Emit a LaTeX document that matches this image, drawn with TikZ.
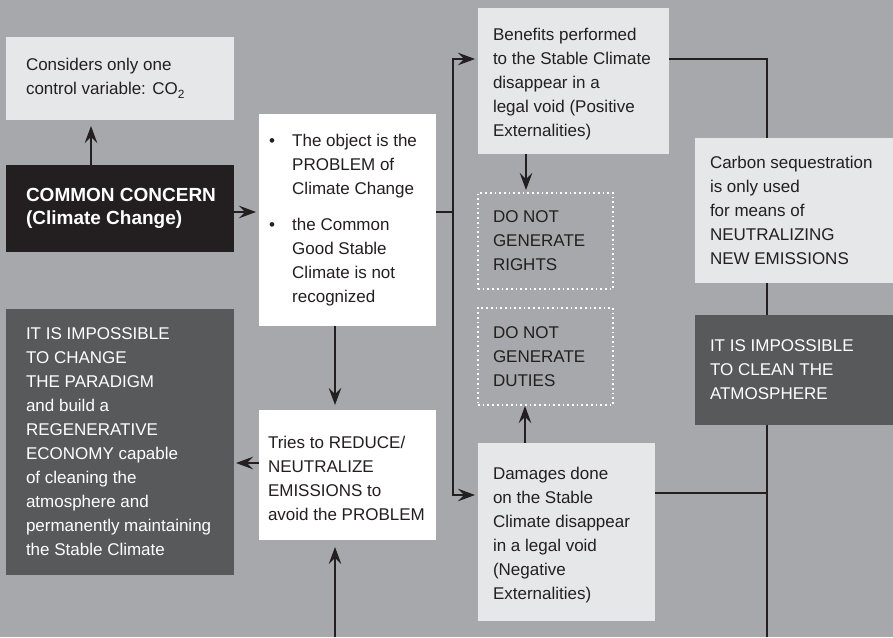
\documentclass[tikz,border=0pt]{standalone}
\usepackage{fontspec}
\setmainfont{Liberation Sans}
\usetikzlibrary{arrows.meta}
\definecolor{bg}{HTML}{A7A8AB}
\definecolor{lightbox}{HTML}{E6E7E8}
\definecolor{darkbox}{HTML}{58595B}
\definecolor{blackbox}{HTML}{231F20}
\definecolor{ink}{HTML}{231F20}
\begin{document}
\begin{tikzpicture}[x=1pt,y=-1pt,
  rect/.style={anchor=north west, inner sep=0pt, outer sep=0pt},
  lightrect/.style={rect, fill=lightbox},
  darkrect/.style={rect, fill=darkbox},
  whiterect/.style={rect, fill=white},
  dotrect/.style={rect, draw=white, line width=1.7pt, dash pattern=on 1.7pt off 3pt},
  txt/.style={anchor=west, inner sep=0pt, outer sep=0pt, align=left, text=ink, font=\fontsize{17}{24}\selectfont},
  wtxt/.style={txt, text=white},
  arr/.style={draw=ink, line width=1.3pt, -{Stealth[length=17pt,width=12.5pt,inset=6pt]}, shorten >=3pt},
  ln/.style={draw=ink, line width=1.3pt}]
\fill[bg] (0,0) rectangle (893,637);
\useasboundingbox (0,0) rectangle (893,637);

% boxes
\node[lightrect, minimum width=228pt, minimum height=83pt] (cons) at (6,37) {};
\node[rect, fill=blackbox, minimum width=228pt, minimum height=87pt] (cc) at (6,165) {};
\node[whiterect, minimum width=177pt, minimum height=212pt] (bul) at (259,114) {};
\node[lightrect, minimum width=191pt, minimum height=146pt] (ben) at (478,8) {};
\node[dotrect, minimum width=135pt, minimum height=96pt] (rights) at (478,193) {};
\node[dotrect, minimum width=135pt, minimum height=97pt] (duties) at (478,308) {};
\node[lightrect, minimum width=200pt, minimum height=145pt] (carbon) at (695,138) {};
\node[darkrect, minimum width=200pt, minimum height=110pt] (clean) at (695,315) {};
\node[darkrect, minimum width=228pt, minimum height=266pt] (imp) at (6,309) {};
\node[whiterect, minimum width=177pt, minimum height=130pt] (tries) at (259,410) {};
\node[lightrect, minimum width=177pt, minimum height=178pt] (dam) at (478,443) {};

% texts
\node[txt] (cons-t) at ([xshift=20pt]cons.west) {Considers only one\\control variable: CO\textsubscript{\raisebox{-2pt}{2}}};
\node[txt, text=white, font=\fontsize{19}{22.5}\selectfont\bfseries] (cc-t) at ([xshift=20pt]cc.west) {COMMON CONCERN\\(Climate Change)};
\node[anchor=west, inner sep=0pt, text=ink, font=\fontsize{17}{24}\selectfont] (bul-t) at ([xshift=10pt]bul.west) {%
\begin{tabular}{@{}p{23pt}@{}l@{}}
\textbullet & The object is the\\
 & PROBLEM of\\
 & Climate Change\\[12pt]
\textbullet & the Common\\
 & Good Stable\\
 & Climate is not\\
 & recognized
\end{tabular}};
\node[txt] (ben-t) at ([xshift=15pt,yshift=-3pt]ben.west) {Benefits performed\\to the Stable Climate\\disappear in a\\legal void (Positive\\Externalities)};
\node[txt] (rights-t) at ([xshift=15pt]rights.west) {DO NOT\\GENERATE\\RIGHTS};
\node[txt] (duties-t) at ([xshift=15pt]duties.west) {DO NOT\\GENERATE\\DUTIES};
\node[txt] (carbon-t) at ([xshift=15pt]carbon.west) {Carbon sequestration\\is only used\\for means of\\NEUTRALIZING\\NEW EMISSIONS};
\node[wtxt] (clean-t) at ([xshift=15pt]clean.west) {IT IS IMPOSSIBLE\\TO CLEAN THE\\ATMOSPHERE};
\node[wtxt] (imp-t) at ([xshift=20pt]imp.west) {IT IS IMPOSSIBLE\\TO CHANGE\\THE PARADIGM\\and build a\\REGENERATIVE\\ECONOMY capable\\of cleaning the\\atmosphere and\\permanently maintaining\\the Stable Climate};
\node[txt] (tries-t) at ([xshift=9pt,yshift=-3pt]tries.west) {Tries to REDUCE/\\NEUTRALIZE\\EMISSIONS to\\avoid the PROBLEM};
\node[txt] (dam-t) at ([xshift=15pt,yshift=-3pt]dam.west) {Damages done\\on the Stable\\Climate disappear\\in a legal void\\(Negative\\Externalities)};

% connectors
\coordinate (j) at (453,212);
\coordinate (rx) at (767,0);
\coordinate (bot1) at (335,637);
\coordinate (bot2) at (767,637);
\draw[arr, shorten >=6pt] (cc.north -| 91,0) -- (cons.south -| 91,0);
\draw[arr] (cc.east |- 0,212) -- (bul.west |- 0,212);
\draw[ln] (bul.east |- j) -- (j);
\draw[arr] (j) |- (ben.west |- 0,59);
\draw[arr] (j) |- (dam.west |- 0,495);
\draw[arr] (ben.south -| 526,0) -- (rights.north -| 526,0);
\draw[arr, shorten >=1pt] (dam.north -| 525,0) -- (duties.south -| 525,0);
\draw[arr, shorten >=5pt] (bul.south -| 335,0) -- (tries.north -| 335,0);
\draw[arr, shorten >=2pt] (tries.west |- 0,463) -- (imp.east |- 0,463);
\draw[arr, shorten >=7pt] (bot1) -- (tries.south -| bot1);
\draw[ln] (ben.east |- 0,59) -| (carbon.north -| rx);
\draw[ln] (carbon.south -| rx) -- (clean.north -| rx);
\draw[ln] (clean.south -| rx) -- (bot2);
\draw[ln] (dam.east |- 0,493) -- (rx |- 0,493);
\end{tikzpicture}
\end{document}
